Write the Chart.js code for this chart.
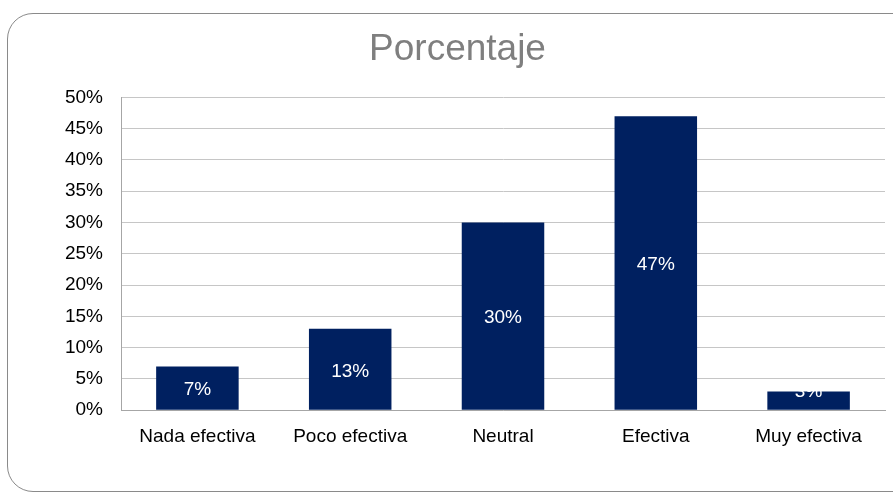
<!DOCTYPE html>
<html>
<head>
<meta charset="utf-8">
<script src="https://cdn.jsdelivr.net/npm/chart.js@4"></script>
<style>
  html, body { margin: 0; padding: 0; background: #fff; overflow: hidden; }
  #wrap { position: relative; width: 893px; height: 494px; }
  #frame {
    position: absolute; left: 7px; top: 13px; width: 920px; height: 479px;
    border: 1px solid #8a8a8a; border-radius: 26px; box-sizing: border-box;
  }
  #chartCanvas { position: absolute; left: 0; top: 0; }
</style>
</head>
<body>
<div id="wrap">
  <div id="frame"></div>
  <canvas id="chartCanvas" width="893" height="494"></canvas>
</div>
<script>
const categories = ['Nada efectiva', 'Poco efectiva', 'Neutral', 'Efectiva', 'Muy efectiva']
const values = [7, 13, 30, 47, 3]
const yTicks = [0, 5, 10, 15, 20, 25, 30, 35, 40, 45, 50]

const font = 'Arial, "Liberation Sans", sans-serif'

// white percentage text in the middle of each bar
// (short bars keep the text a bit higher, so it spills over the top)
const barLabels = {
  id: 'barLabels',
  afterDatasetsDraw(chart) {
    const ctx = chart.ctx
    const meta = chart.getDatasetMeta(0)
    ctx.save()
    ctx.fillStyle = '#ffffff'
    ctx.font = '19px ' + font
    ctx.textAlign = 'center'
    ctx.textBaseline = 'middle'
    meta.data.forEach((bar, i) => {
      let y = Math.min((bar.y + bar.base) / 2 + 2, bar.base - 18)
      ctx.fillText(values[i] + '%', bar.x, y)
    })
    ctx.restore()
  }
}

let chart = new Chart(document.getElementById('chartCanvas'), {
  type: 'bar',
  data: {
    labels: categories,
    datasets: [{
      data: values,
      backgroundColor: '#002060',
      borderWidth: 0,
      categoryPercentage: 1,
      barPercentage: 0.54
    }]
  },
  options: {
    responsive: false,
    animation: false,
    layout: { padding: { left: 30, right: 8, top: 0, bottom: 31 } },
    plugins: {
      legend: { display: false },
      tooltip: { enabled: false },
      title: {
        display: true,
        text: 'Porcentaje',
        color: '#7f7f7f',
        font: { family: font, size: 37, weight: 'normal', lineHeight: 1.2 },
        padding: { top: 28, bottom: 25 }
      }
    },
    scales: {
      x: {
        grid: { display: false, drawTicks: false },
        border: { display: true, color: '#a6a6a6', width: 1 },
        ticks: { color: '#000', font: { family: font, size: 19 }, padding: 15, maxRotation: 0 }
      },
      y: {
        min: 0,
        max: 50,
        afterFit: s => { s.width = 91 },
        afterBuildTicks: s => { s.ticks = yTicks.map(v => ({ value: v })) },
        grid: { color: '#c6c6c6', lineWidth: 1, drawTicks: false },
        border: { display: true, color: '#a6a6a6', width: 1 },
        ticks: {
          color: '#000',
          font: { family: font, size: 19 },
          padding: 18,
          callback: v => v + '%'
        }
      }
    }
  },
  plugins: [barLabels]
})
</script>
</body>
</html>
